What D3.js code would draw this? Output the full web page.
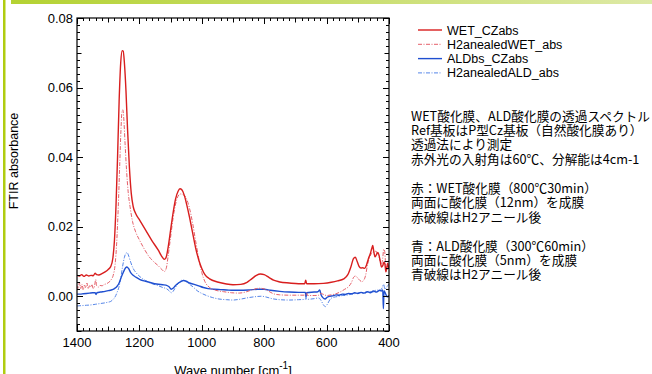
<!DOCTYPE html>
<html><head><meta charset="utf-8">
<script src="https://cdn.jsdelivr.net/npm/d3@7"></script>
<style>
html,body{margin:0;padding:0;background:#fff;}
svg{display:block;}
</style></head>
<body>
<svg id="c" width="652" height="374"></svg>
<script>
// ---- data (wavenumber cm-1, absorbance) ----
const wetX = [1400,1392,1385,1378,1370,1362,1355,1348,1342,1337,1330,1320,1310,1300,1292,1285,1280,1275,1270,1265,1260,1255,1252,1248,1243,1238,1232,1226,1220,1212,1200,1180,1160,1140,1128,1120,1115,1108,1100,1092,1084,1076,1070,1064,1056,1048,1040,1030,1020,1010,1000,990,975,950,925,900,875,855,840,825,812,800,785,770,750,720,690,670,667,664,640,610,585,565,545,532,522,514,508,502,496,490,484,478,472,466,460,455,452,449,445,440,436,432,428,424,420,416,413,410,407,404,401,400];
const wetY = [0.0060,0.0058,0.0062,0.0057,0.0061,0.0058,0.0060,0.0059,0.0066,0.0062,0.0061,0.0065,0.0070,0.0077,0.0085,0.0110,0.0160,0.0260,0.0400,0.0560,0.0670,0.0706,0.0705,0.0670,0.0590,0.0480,0.0370,0.0295,0.0258,0.0238,0.0220,0.0190,0.0160,0.0133,0.0114,0.0106,0.0110,0.0140,0.0190,0.0240,0.0280,0.0302,0.0309,0.0306,0.0290,0.0262,0.0230,0.0185,0.0140,0.0105,0.0080,0.0062,0.0050,0.0041,0.0036,0.0033,0.0034,0.0040,0.0050,0.0060,0.0064,0.0062,0.0054,0.0046,0.0041,0.0038,0.0036,0.0036,0.0046,0.0036,0.0036,0.0037,0.0040,0.0044,0.0050,0.0062,0.0085,0.0108,0.0112,0.0100,0.0086,0.0081,0.0082,0.0080,0.0090,0.0108,0.0122,0.0138,0.0146,0.0130,0.0113,0.0120,0.0126,0.0118,0.0100,0.0084,0.0088,0.0098,0.0092,0.0070,0.0082,0.0095,0.0080,0.0085];

const h2wetX = [1400,1396,1392,1388,1384,1380,1376,1372,1368,1364,1360,1356,1352,1348,1344,1340,1337,1332,1326,1320,1312,1305,1298,1290,1284,1278,1273,1268,1263,1259,1256,1253,1250,1246,1241,1236,1230,1222,1212,1200,1187,1170,1155,1140,1128,1120,1114,1108,1100,1092,1084,1076,1068,1060,1050,1040,1030,1020,1010,1000,990,975,955,930,905,880,860,840,825,812,800,785,770,750,720,690,667,664,661,640,625,620,612,600,585,570,555,542,530,520,513,507,500,493,487,481,475,469,463,457,452,447,442,437,432,428,424,420,417,414,411,408,405,402,400];
const h2wetY = [0.0030,0.0020,0.0040,0.0022,0.0035,0.0018,0.0032,0.0024,0.0038,0.0021,0.0030,0.0026,0.0034,0.0022,0.0028,0.0048,0.0030,0.0026,0.0031,0.0030,0.0034,0.0036,0.0040,0.0048,0.0060,0.0090,0.0150,0.0250,0.0380,0.0480,0.0530,0.0536,0.0510,0.0440,0.0360,0.0300,0.0258,0.0215,0.0185,0.0162,0.0140,0.0115,0.0100,0.0088,0.0077,0.0071,0.0080,0.0115,0.0170,0.0225,0.0265,0.0288,0.0294,0.0292,0.0282,0.0255,0.0213,0.0160,0.0110,0.0068,0.0042,0.0025,0.0017,0.0013,0.0010,0.0009,0.0012,0.0018,0.0022,0.0023,0.0021,0.0014,0.0007,0.0004,0.0003,0.0003,0.0003,0.0010,0.0002,0.0002,0.0003,0.0008,0.0006,0.0002,0.0004,0.0007,0.0013,0.0020,0.0027,0.0040,0.0055,0.0058,0.0052,0.0045,0.0042,0.0046,0.0060,0.0090,0.0110,0.0122,0.0128,0.0126,0.0130,0.0120,0.0114,0.0100,0.0092,0.0110,0.0135,0.0130,0.0095,0.0080,0.0075,0.0085,0.0080];

const aldX = [1400,1390,1380,1370,1360,1350,1342,1339,1336,1325,1310,1300,1290,1280,1272,1265,1258,1250,1244,1240,1235,1228,1220,1210,1198,1180,1160,1145,1125,1115,1105,1098,1092,1085,1075,1066,1058,1050,1040,1027,1010,995,980,960,940,920,900,880,850,820,800,780,750,720,690,668,666,664,640,628,622,618,612,605,598,590,580,570,560,550,540,530,520,510,500,490,480,470,460,450,440,430,425,420,418,416,410,405,400];
const aldY = [0.0006,0.0006,0.0007,0.0008,0.0009,0.0010,0.0010,0.0005,0.0010,0.0012,0.0014,0.0016,0.0018,0.0022,0.0028,0.0038,0.0055,0.0072,0.0082,0.0084,0.0080,0.0068,0.0060,0.0054,0.0048,0.0043,0.0038,0.0035,0.0033,0.0032,0.0027,0.0020,0.0023,0.0030,0.0038,0.0043,0.0045,0.0043,0.0038,0.0035,0.0030,0.0025,0.0022,0.0020,0.0019,0.0018,0.0017,0.0017,0.0018,0.0020,0.0020,0.0017,0.0014,0.0012,0.0011,0.0011,-0.0003,0.0010,0.0012,0.0013,0.0018,0.0005,-0.0004,-0.0008,-0.0003,0.0000,0.0001,0.0004,0.0003,0.0006,0.0005,0.0008,0.0007,0.0010,0.0008,0.0011,0.0009,0.0013,0.0010,0.0015,0.0012,0.0017,0.0015,0.0018,-0.0036,0.0016,0.0005,-0.0002,0.0002];

const h2aldX = [1400,1385,1370,1355,1340,1325,1310,1300,1292,1285,1278,1272,1266,1260,1254,1248,1243,1239,1234,1228,1220,1210,1198,1180,1160,1145,1125,1112,1104,1098,1092,1084,1074,1064,1056,1046,1036,1027,1015,1000,985,965,945,920,900,880,850,825,810,795,775,750,720,690,668,666,664,640,625,618,610,604,597,588,578,565,550,535,520,505,490,478,465,452,440,430,422,417,413,408,404,400];
const h2aldY = [-0.0028,-0.0027,-0.0026,-0.0025,-0.0023,-0.0021,-0.0019,-0.0017,-0.0015,-0.0010,-0.0002,0.0010,0.0025,0.0050,0.0085,0.0112,0.0124,0.0125,0.0115,0.0098,0.0080,0.0067,0.0056,0.0045,0.0036,0.0032,0.0025,0.0021,0.0015,0.0010,0.0014,0.0026,0.0038,0.0046,0.0045,0.0039,0.0032,0.0026,0.0016,0.0008,0.0002,-0.0004,-0.0008,-0.0010,-0.0011,-0.0009,-0.0004,-0.0001,0.0000,-0.0002,-0.0007,-0.0010,-0.0011,-0.0010,-0.0009,-0.0004,-0.0009,-0.0007,-0.0005,-0.0012,-0.0025,-0.0030,-0.0022,-0.0008,-0.0003,-0.0001,0.0002,0.0003,0.0006,0.0008,0.0010,0.0008,0.0014,0.0012,0.0018,0.0016,0.0024,0.0034,0.0020,0.0026,0.0030,0.0035];

const seriesNames = ["WET_CZabs","H2anealedWET_abs","ALDbs_CZabs","H2anealedALD_abs"];
const yTickLabels = [0.00,0.02,0.04,0.06,0.08];
const xTickLabels = [1400,1200,1000,800,600,400];
const noteLines = [
  "WET酸化膜、ALD酸化膜の透過スペクトル",
  "Ref基板はP型Cz基板（自然酸化膜あり）",
  "透過法により測定",
  "赤外光の入射角は60℃、分解能は4cm-1",
  "",
  "赤：WET酸化膜（800℃30min）",
  "両面に酸化膜（12nm）を成膜",
  "赤破線はH2アニール後",
  "",
  "青：ALD酸化膜（300℃60min）",
  "両面に酸化膜（5nm）を成膜",
  "青破線はH2アニール後"
];

// ---- drawing ----
const svg = d3.select("#c");
const L = 77, R = 389, T = 18, B = 331;
const x = d3.scaleLinear().domain([1400,400]).range([L,R]);
const y = d3.scaleLinear().domain([-0.01,0.08]).range([B,T]);

// decorative green frame
const defs = svg.append("defs");
const g1 = defs.append("linearGradient").attr("id","gbar").attr("x1","0").attr("x2","1");
g1.append("stop").attr("offset","0").attr("stop-color","#b4d232");
g1.append("stop").attr("offset","1").attr("stop-color","#dde9a6");
svg.append("rect").attr("x",11).attr("y",0).attr("width",641).attr("height",4).attr("fill","url(#gbar)");
svg.append("rect").attr("x",3).attr("y",0).attr("width",2.5).attr("height",374).attr("fill","#b0cc10");

defs.append("clipPath").attr("id","clip").append("rect")
  .attr("x",L).attr("y",T).attr("width",R-L).attr("height",B-T);

const styles = [
  {color:"#d81e1e", w:1.4, dash:null},
  {color:"#e5606a", w:1.0, dash:"4,1.5,1,1.5"},
  {color:"#1f4fd0", w:1.4, dash:null},
  {color:"#5585e8", w:1.0, dash:"4,1.5,1,1.5"}
];
const data = [
  d3.zip(wetX, wetY), d3.zip(h2wetX, h2wetY), d3.zip(aldX, aldY), d3.zip(h2aldX, h2aldY)
];
const line = d3.line().x(d=>x(d[0])).y(d=>y(d[1])).curve(d3.curveMonotoneX);
const plot = svg.append("g").attr("clip-path","url(#clip)");
[3,2,1,0].forEach(i=>{
  plot.append("path").datum(data[i]).attr("d",line)
    .attr("fill","none").attr("stroke",styles[i].color).attr("stroke-width",styles[i].w)
    .attr("stroke-dasharray",styles[i].dash).attr("stroke-linejoin","round");
});

// frame
svg.append("rect").attr("x",L).attr("y",T).attr("width",R-L).attr("height",B-T)
  .attr("fill","none").attr("stroke","#000").attr("stroke-width",1.2);

// ticks (inside)
const tickG = svg.append("g").attr("stroke","#000").attr("stroke-width",1);
const yMinor = d3.range(-0.01,0.0801,0.002).map(v=>+v.toFixed(3));
yMinor.forEach(v=>{
  const k = Math.round(v*1000);
  const len = (k%20===0)?6:((k%10===0)?4.5:3);
  const py = Math.round(y(v))+0.5;
  tickG.append("line").attr("x1",L).attr("x2",L+len).attr("y1",py).attr("y2",py);
  tickG.append("line").attr("x1",R).attr("x2",R-len).attr("y1",py).attr("y2",py);
});
d3.range(400,1401,20).forEach(w=>{
  const len = (w%200===0)?6:((w%100===0)?4.5:3);
  const px = Math.round(x(w))+0.5;
  tickG.append("line").attr("x1",px).attr("x2",px).attr("y1",B).attr("y2",B-len);
  tickG.append("line").attr("x1",px).attr("x2",px).attr("y1",T).attr("y2",T+len);
});

const font = "Liberation Sans, Arial, sans-serif";
// y tick labels
svg.append("g").selectAll("text").data(yTickLabels).join("text")
  .attr("x",73).attr("y",d=>y(d)+4.5).attr("text-anchor","end")
  .attr("font-family",font).attr("font-size",13).attr("fill","#000")
  .text(d=>d3.format(".2f")(d));
// x tick labels
svg.append("g").selectAll("text").data(xTickLabels).join("text")
  .attr("x",d=>x(d)).attr("y",347).attr("text-anchor","middle")
  .attr("font-family",font).attr("font-size",13).attr("fill","#000")
  .text(d=>d);

// axis titles
svg.append("text").attr("transform","translate(18,161) rotate(-90)")
  .attr("text-anchor","middle").attr("font-family",font).attr("font-size",12.5)
  .text("FTIR absorbance");
const xt = svg.append("text").attr("x",(L+R)/2).attr("y",375).attr("text-anchor","middle")
  .attr("font-family",font).attr("font-size",13);
xt.append("tspan").text("Wave number [cm");
xt.append("tspan").attr("dy",-6).attr("font-size",10).text("-1");
xt.append("tspan").attr("dy",6).text("]");

// legend
const lg = svg.append("g");
seriesNames.forEach((n,i)=>{
  const ly = 30 + i*14.3;
  lg.append("line").attr("x1",418).attr("x2",442).attr("y1",ly).attr("y2",ly)
    .attr("stroke",styles[i].color).attr("stroke-width",styles[i].w)
    .attr("stroke-dasharray",styles[i].dash);
  lg.append("text").attr("x",447).attr("y",ly+4.5).attr("font-family",font)
    .attr("font-size",12.5).attr("fill","#000").text(n);
});

// notes
const ng = svg.append("g");
noteLines.forEach((t,i)=>{
  if(!t) return;
  ng.append("text").attr("x",411).attr("y",116 + i*14.45 + 4.5)
    .attr("font-family","'Noto Sans CJK JP', sans-serif").attr("font-size",12.7)
    .attr("fill","#000").text(t);
});
</script>
</body></html>
